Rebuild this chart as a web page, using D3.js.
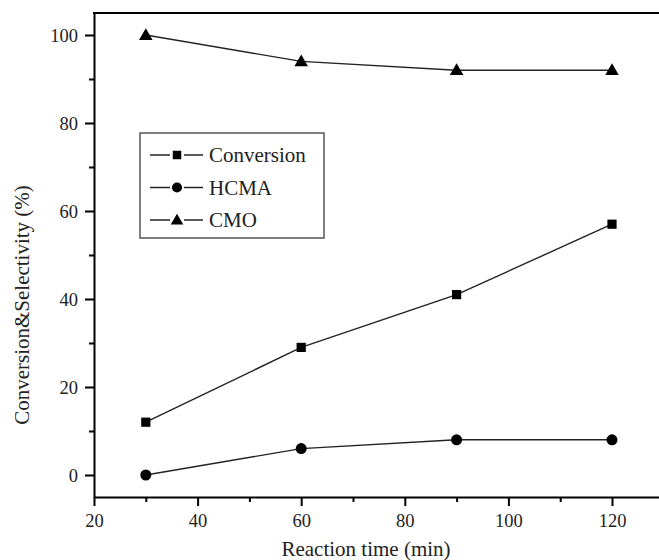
<!DOCTYPE html>
<html>
<head>
<meta charset="utf-8">
<script src="https://cdn.jsdelivr.net/npm/d3@7"></script>
<style>
  html, body { margin: 0; padding: 0; background: #fff; }
  svg, svg text { font-family: "Liberation Serif", "Times New Roman", Times, "DejaVu Serif", serif; }
  svg { display: block; }
</style>
</head>
<body>
<svg id="chart" width="659" height="560"></svg>
<script>
// Reaction time (min)
const times = [30, 60, 90, 120];
// Series values (%)
const conversion = [12, 29, 41, 57];
const hcma = [0, 6, 8, 8];
const cmo = [100, 94, 92, 92];

const seriesNames = ["Conversion", "HCMA", "CMO"];
const seriesSymbols = [d3.symbolSquare, d3.symbolCircle, d3.symbolTriangle];
const seriesSizes = [85, 95, 80];

const xMajor = [20, 40, 60, 80, 100, 120];
const xMinor = [30, 50, 70, 90, 110, 130];
const yMajor = [0, 20, 40, 60, 80, 100];
const yMinor = [10, 30, 50, 70, 90];

const xTitle = "Reaction time (min)";
const yTitle = "Conversion&Selectivity (%)";

const serif = "'Liberation Serif', 'Times New Roman', Times, 'DejaVu Serif', serif";

const svg = d3.select("#chart");
const plotLeft = 94, plotTop = 13, plotBottom = 497, plotRight = 663.8;

const x = d3.scaleLinear().domain([20, 130]).range([plotLeft, plotRight]);
const y = d3.scaleLinear().domain([-5, 105]).range([plotBottom, plotTop]);

const series = [conversion, hcma, cmo].map((vals, i) => ({
  name: seriesNames[i],
  symbol: seriesSymbols[i],
  size: seriesSizes[i],
  points: times.map((t, j) => ({ t, v: vals[j] }))
}));

// Minor ticks
svg.append("g")
  .attr("transform", `translate(0,${plotBottom})`)
  .call(d3.axisBottom(x).tickValues(xMinor).tickSize(5).tickSizeOuter(0).tickFormat(""))
  .call(g => g.select(".domain").remove())
  .call(g => g.selectAll("line").attr("stroke", "#000").attr("stroke-width", 2));
svg.append("g")
  .attr("transform", `translate(${plotLeft},0)`)
  .call(d3.axisLeft(y).tickValues(yMinor).tickSize(5).tickSizeOuter(0).tickFormat(""))
  .call(g => g.select(".domain").remove())
  .call(g => g.selectAll("line").attr("stroke", "#000").attr("stroke-width", 2));

// Major axes
const xAxis = svg.append("g")
  .attr("transform", `translate(0,${plotBottom})`)
  .call(d3.axisBottom(x).tickValues(xMajor).tickSize(9).tickSizeOuter(0).tickPadding(8));
const yAxis = svg.append("g")
  .attr("transform", `translate(${plotLeft},0)`)
  .call(d3.axisLeft(y).tickValues(yMajor).tickSize(9).tickSizeOuter(0).tickPadding(7));

[xAxis, yAxis].forEach(g => {
  g.attr("font-family", serif).attr("font-size", 18.5);
  g.select(".domain").attr("stroke", "#000").attr("stroke-width", 2);
  g.selectAll(".tick line").attr("stroke", "#000").attr("stroke-width", 2);
  g.selectAll(".tick text").attr("fill", "#222");
});
yAxis.selectAll(".tick text").attr("dy", "0.34em");

// Top frame line
svg.append("line")
  .attr("x1", plotLeft - 1).attr("x2", 659)
  .attr("y1", plotTop).attr("y2", plotTop)
  .attr("stroke", "#000").attr("stroke-width", 2.2);

// Series lines and markers
const line = d3.line().x(d => x(d.t)).y(d => y(d.v));
series.forEach(s => {
  svg.append("path")
    .datum(s.points)
    .attr("d", line)
    .attr("fill", "none")
    .attr("stroke", "#222")
    .attr("stroke-width", 1.4);
  svg.selectAll(null)
    .data(s.points)
    .enter().append("path")
    .attr("transform", d => `translate(${x(d.t)},${y(d.v) + (s.symbol === d3.symbolTriangle ? 1 : 0)})`)
    .attr("d", d3.symbol().type(s.symbol).size(s.size))
    .attr("fill", "#000");
});

// Legend
const legend = svg.append("g").attr("font-family", serif);
legend.append("rect")
  .attr("x", 140).attr("y", 133)
  .attr("width", 184).attr("height", 105)
  .attr("fill", "#fff")
  .attr("stroke", "#555")
  .attr("stroke-width", 1.5);
series.forEach((s, i) => {
  const cy = 155 + i * 32.5;
  legend.append("line")
    .attr("x1", 150).attr("x2", 170).attr("y1", cy).attr("y2", cy)
    .attr("stroke", "#222").attr("stroke-width", 1.5);
  legend.append("line")
    .attr("x1", 184).attr("x2", 203).attr("y1", cy).attr("y2", cy)
    .attr("stroke", "#222").attr("stroke-width", 1.5);
  legend.append("path")
    .attr("transform", `translate(177,${cy + (s.symbol === d3.symbolTriangle ? 1 : 0)})`)
    .attr("d", d3.symbol().type(s.symbol).size(s.size * 0.85))
    .attr("fill", "#000");
  legend.append("text")
    .attr("x", 209).attr("y", cy)
    .attr("dy", "0.35em")
    .attr("fill", "#222")
    .attr("font-size", 21)
    .text(s.name);
});

// Axis titles
svg.append("text")
  .attr("x", 366).attr("y", 556)
  .attr("text-anchor", "middle")
  .attr("fill", "#222")
  .attr("font-family", serif)
  .attr("font-size", 21)
  .text(xTitle);
svg.append("text")
  .attr("transform", "translate(29,305) rotate(-90)")
  .attr("text-anchor", "middle")
  .attr("fill", "#222")
  .attr("font-family", serif)
  .attr("font-size", 21)
  .text(yTitle);
</script>
</body>
</html>
